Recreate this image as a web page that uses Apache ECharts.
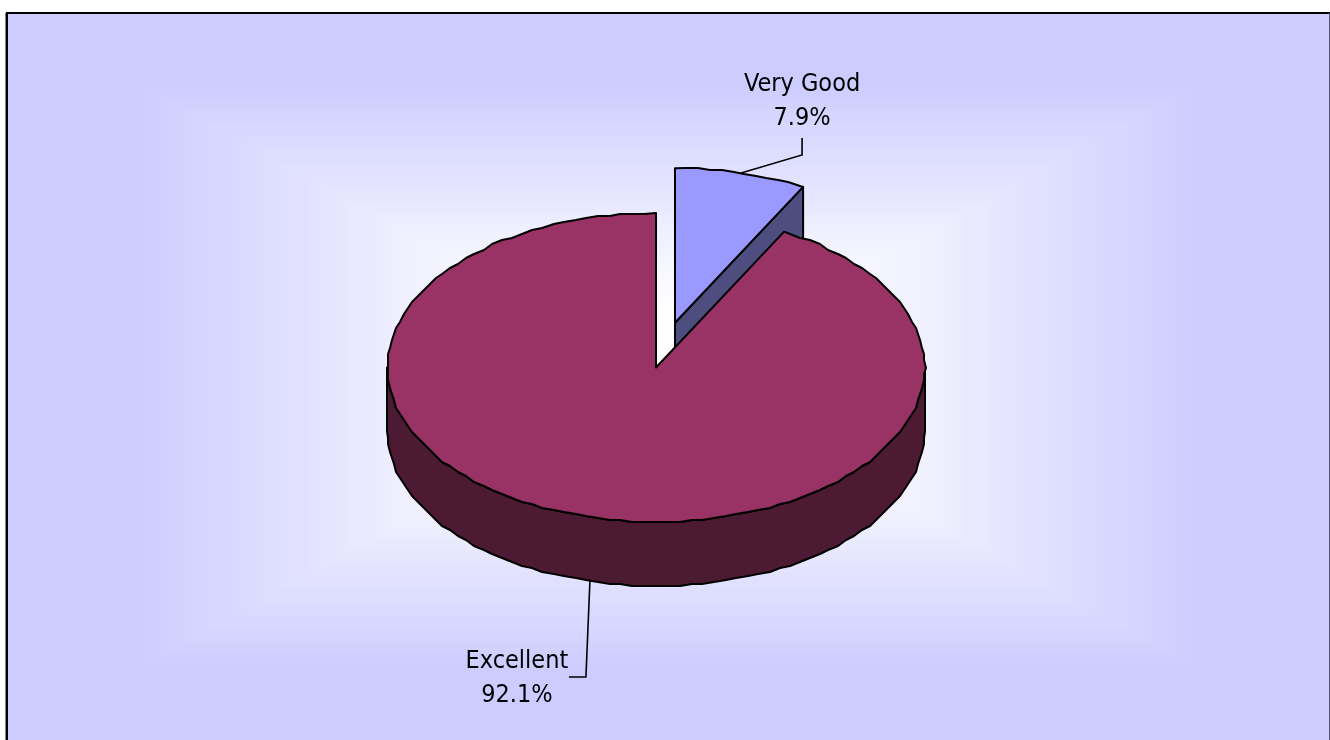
<!DOCTYPE html>
<html><head><meta charset="utf-8">
<style>html,body{margin:0;padding:0;background:#fff}#c{width:1330px;height:740px}</style>
<script src="https://cdn.jsdelivr.net/npm/echarts@6/dist/echarts.min.js"></script>
</head><body><div id="c"></div>
<script>
const categories = ['Very Good', 'Excellent'];
const values = [7.9, 92.1];
const topColors = ['#9999ff', '#993366'];
const sideColors = ['#4d4d80', '#4d1a33'];
const explode = [[0.0706, 0.29], [0, 0]];
const depth = 0.413;
// label placement: [text dx, text dy from slice anchor], elbow points in px from anchor
const labelLayout = [
  {dx: 61, dy: -71, elbow: [[61, -18], [61, -35]]},
  {dx: -73, dy: 97, elbow: [[-4, 96], [-21, 96]]}
];
const total = values.reduce((a, b) => a + b, 0);
const starts = []; values.reduce((acc, v, i) => (starts[i] = acc, acc + v), 0);

// Background: rectangular gradient from the centre outward
const bg = [{type: 'rect', shape: {x: 7, y: 13, width: 1322, height: 727}, style: {fill: '#ccccff'}, z: -10, silent: true}];
const BX = 668, BY = 376, BW = 661, BH = 363;
const gradStops = [[0.80, 205], [0.74, 211], [0.6, 222], [0.49, 231], [0.42, 238], [0.2, 254]];
const N = 80;
function gradAt(s) {
  for (let j = 0; j < gradStops.length - 1; j++) {
    const [s0, c0] = gradStops[j], [s1, c1] = gradStops[j + 1];
    if (s <= s0 && s >= s1) return c0 + (c1 - c0) * (s0 - s) / (s0 - s1);
  }
  return 254;
}
for (let k = 0; k < N; k++) {
  const s = 0.80 - (0.80 - 0.2) * k / (N - 1);
  const c = Math.round(gradAt(s));
  bg.push({type: 'rect', shape: {x: BX - BW * s, y: BY - BH * s, width: 2 * BW * s, height: 2 * BH * s},
    style: {fill: `rgb(${c},${c},255)`}, z: -9, silent: true});
}
bg.push({type: 'rect', shape: {x: 5, y: 13, width: 1, height: 727}, style: {fill: '#808080'}, z: 5, silent: true});
bg.push({type: 'rect', shape: {x: 6, y: 12, width: 1324, height: 2}, style: {fill: '#000'}, z: 5, silent: true});
bg.push({type: 'rect', shape: {x: 6, y: 12, width: 2, height: 728}, style: {fill: '#000'}, z: 5, silent: true});
bg.push({type: 'rect', shape: {x: 1329, y: 13, width: 1, height: 727}, style: {fill: '#55557a'}, z: 5, silent: true});

function renderItem(params, api) {
  const i = params.dataIndex;
  const v = api.value(0);
  const a0 = starts[i] / total * 2 * Math.PI, a1 = (starts[i] + v) / total * 2 * Math.PI;
  const [ox, oy] = explode[i];
  const Q = 2;
  const exact = (a, dz) => api.coord([ox + Math.sin(a), oy + Math.cos(a) - (dz || 0)]);
  const pt = (a, dz) => {
    const p = exact(a, dz);
    return [Math.round(p[0] / Q) * Q, Math.round(p[1] / Q) * Q];
  };
  const apex = api.coord([ox, oy]);
  const apexLow = api.coord([ox, oy - depth]);
  const stroke = {stroke: '#000', lineWidth: 2, lineJoin: 'round'};
  const STEP = 2.5 * Math.PI / 180;
  const arc = (from, to, dz) => {
    const out = [exact(from, dz)];
    for (let k = Math.floor(from / STEP) + 1; k * STEP < to; k++) out.push(pt(k * STEP, dz));
    out.push(exact(to, dz));
    return out;
  };
  const kids = [];
  if (i === 0) {
    // radial cut wall of the pulled-out slice
    kids.push({type: 'polygon', shape: {points: [apex, exact(a1), exact(a1, depth), apexLow]},
      style: Object.assign({fill: sideColors[i]}, stroke)});
  } else {
    // outer wall on the near side of the pie
    const from = Math.max(a0, Math.PI / 2), to = Math.min(a1, 1.5 * Math.PI);
    kids.push({type: 'polygon', shape: {points: arc(from, to, 0).concat(arc(from, to, depth).reverse())},
      style: Object.assign({fill: sideColors[i]}, stroke)});
  }
  kids.push({type: 'polygon', shape: {points: [apex].concat(arc(a0, a1, 0))},
    style: Object.assign({fill: topColors[i]}, stroke)});

  // leader and label
  const mid = (a0 + a1) / 2;
  const anchor = exact(mid, Math.cos(mid) < 0 ? depth : 0);
  const L = labelLayout[i];
  kids.push({type: 'polyline', shape: {points: [anchor].concat(L.elbow.map(e => [anchor[0] + e[0], anchor[1] + e[1]]))},
    style: {stroke: '#000', lineWidth: 1.6, fill: null}});
  kids.push({type: 'text', style: {
    text: categories[i] + '\n' + v.toFixed(1) + '%',
    x: anchor[0] + L.dx, y: anchor[1] + L.dy, align: 'center', verticalAlign: 'middle',
    fontFamily: '"DejaVu Sans Condensed","DejaVu Sans"', fontSize: 25, lineHeight: 34, fill: '#000'}});
  return {type: 'group', children: kids};
}

const chart = echarts.init(document.getElementById('c'), null, {renderer: 'canvas'});
chart.setOption({
  animation: false,
  backgroundColor: '#fff',
  tooltip: {show: false},
  graphic: bg,
  grid: {left: 387, width: 538, top: 213, height: 309, containLabel: false},
  xAxis: {type: 'value', min: -1, max: 1, show: false},
  yAxis: {type: 'value', min: -1, max: 1, show: false},
  series: [{
    type: 'custom', coordinateSystem: 'cartesian2d', clip: false, silent: true,
    renderItem,
    encode: {x: 1, y: 1},
    data: categories.map((c, i) => ({name: c, value: [values[i], 0]}))
  }]
});
</script></body></html>
